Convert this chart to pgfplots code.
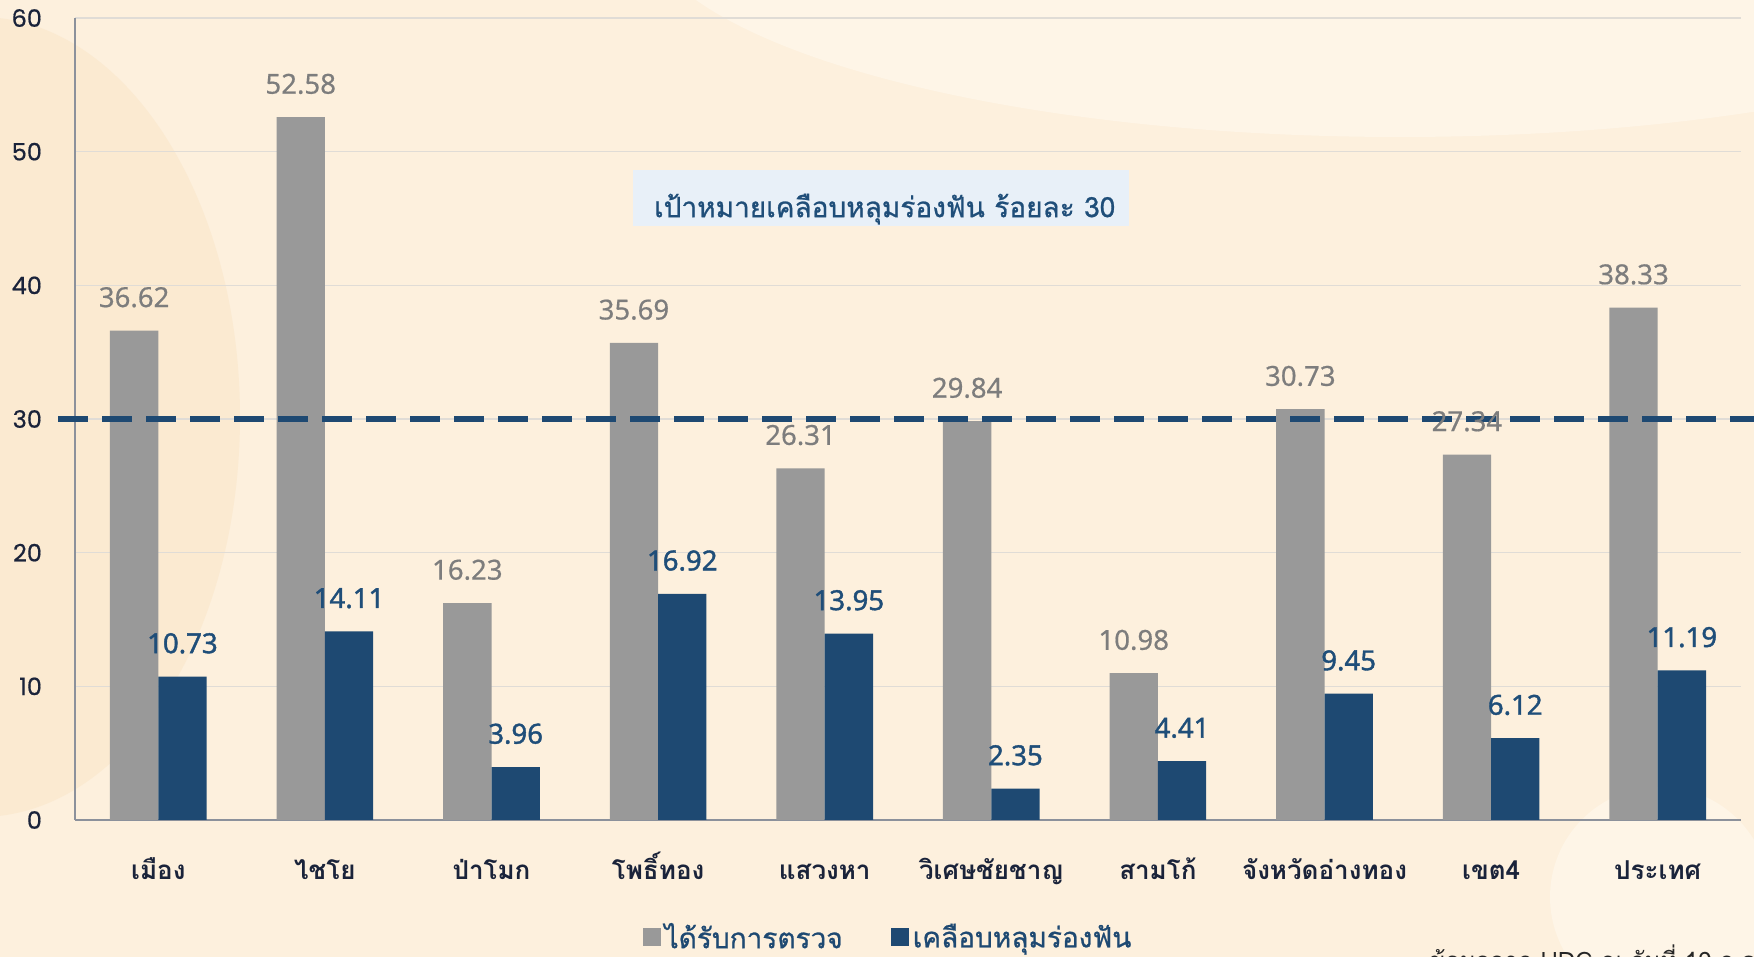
\documentclass[border=0pt]{standalone}
\usepackage{pgfplots}
\pgfplotsset{compat=1.18}
\usepackage{fontspec}
\setmainfont{Noto Sans}
\newfontfamily\thai[Script=Thai]{Loma}
\newfontfamily\thaimed[Script=Thai,FakeBold=0.8]{Loma}
\newfontfamily\pop[FakeBold=0.6]{Poppins}
\newfontfamily\lblg[FakeBold=0.5]{Noto Sans}
\newfontfamily\lbln[FakeBold=1.4]{Noto Sans}
\definecolor{bg}{RGB}{253,240,221}
\definecolor{blobA}{RGB}{251,234,209}
\definecolor{blobB}{RGB}{254,245,231}
\definecolor{barGray}{RGB}{153,153,153}
\definecolor{barNavy}{RGB}{30,73,114}
\definecolor{lblGray}{RGB}{125,125,125}
\definecolor{lblNavy}{RGB}{31,78,121}
\definecolor{tickc}{RGB}{26,35,58}
\definecolor{boxfill}{RGB}{232,240,248}
\definecolor{gridc}{RGB}{224,220,214}
\definecolor{axisc}{RGB}{140,145,155}
\begin{document}
\begin{tikzpicture}
\path[use as bounding box] (0,0) rectangle (877pt,478.5pt);
\clip (0,0) rectangle (877pt,478.5pt);
\fill[bg] (0,0) rectangle (877pt,478.5pt);
\fill[blobA] (-10pt,270pt) ellipse (130pt and 200pt);
\fill[blobB] (700pt,520pt) ellipse (380pt and 110pt);
\fill[blobB] (830pt,30pt) circle (55pt);
\begin{axis}[
  at={(37.5pt,68.5pt)}, anchor=south west,
  scale only axis, width=833pt, height=401pt,
  clip=false,
  xmin=-0.5, xmax=9.5, ymin=0, ymax=60,
  ytick={0,10,20,30,40,50,60},
  xtick={0,1,2,3,4,5,6,7,8,9},
  xticklabels={เมือง, ไชโย, ป่าโมก, โพธิ์ทอง, แสวงหา, วิเศษชัยชาญ, สามโก้, จังหวัดอ่างทอง, เขต4, ประเทศ},
  /pgf/number format/assume math mode=true,
  ymajorgrids, grid style={gridc, line width=0.6pt},
  axis x line*=bottom, axis y line*=left,
  axis line style={axisc, line width=0.8pt},
  major tick length=0pt,
  yticklabel style={font=\pop\fontsize{12}{14}\selectfont, text=tickc, anchor=east, xshift=-13pt},
  xticklabel style={font=\thai\bfseries\fontsize{13}{15}\selectfont, text=tickc, anchor=base, yshift=-30pt},
  ybar=0pt, bar width=0.29,
  nodes near coords={\pgfmathprintnumber[fixed,fixed zerofill,precision=2,assume math mode=true]{\pgfplotspointmeta}},
  every node near coord/.append style={anchor=south, yshift=8pt},
  legend style={at={(0.4886,-0.146)}, anchor=center, draw=none, fill=none,
    font=\thaimed\fontsize{14}{16}\selectfont, text=barNavy,
    /tikz/every even column/.append style={column sep=22pt}},
  legend columns=2,
]
\addplot[fill=barGray, draw=none, every node near coord/.append style={text=lblGray, font=\lblg\fontsize{13.8}{15}\selectfont},
  legend image code/.code={\fill[barGray] (0pt,-4.5pt) rectangle (9pt,4.5pt);}]
  coordinates {(0,36.62) (1,52.58) (2,16.23) (3,35.69) (4,26.31) (5,29.84) (6,10.98) (7,30.73) (8,27.34) (9,38.33)};
\addplot[fill=barNavy, draw=none, every node near coord/.append style={text=lblNavy, font=\lbln\fontsize{13.8}{15}\selectfont},
  legend image code/.code={\fill[barNavy] (0pt,-4.5pt) rectangle (9pt,4.5pt);}]
  coordinates {(0,10.73) (1,14.11) (2,3.96) (3,16.92) (4,13.95) (5,2.35) (6,4.41) (7,9.45) (8,6.12) (9,11.19)};
\legend{ได้รับการตรวจ, เคลือบหลุมร่องฟัน}
\addplot[barNavy, line width=2.7pt, dash pattern=on 15pt off 7pt, sharp plot, nodes near coords={}, forget plot]
  coordinates {(-0.602,30) (9.7,30)};
\node[fill=boxfill, minimum width=248pt, minimum height=28pt, inner sep=0pt] at (axis cs:4.34,46.5) {};
\node[anchor=base, text=lblNavy, inner sep=0pt,
  font=\thaimed\fontsize{14}{16}\selectfont] at (axis cs:4.36,45.1) {เป้าหมายเคลือบหลุมร่องฟัน ร้อยละ 30};
\end{axis}
\node[anchor=base west, font=\thai\fontsize{12}{14}\selectfont, text=black!85] at (711pt,-6pt) {ข้อมูลจาก HDC ณ วันที่ 19 ก.ค. 2566};
\end{tikzpicture}
\end{document}
